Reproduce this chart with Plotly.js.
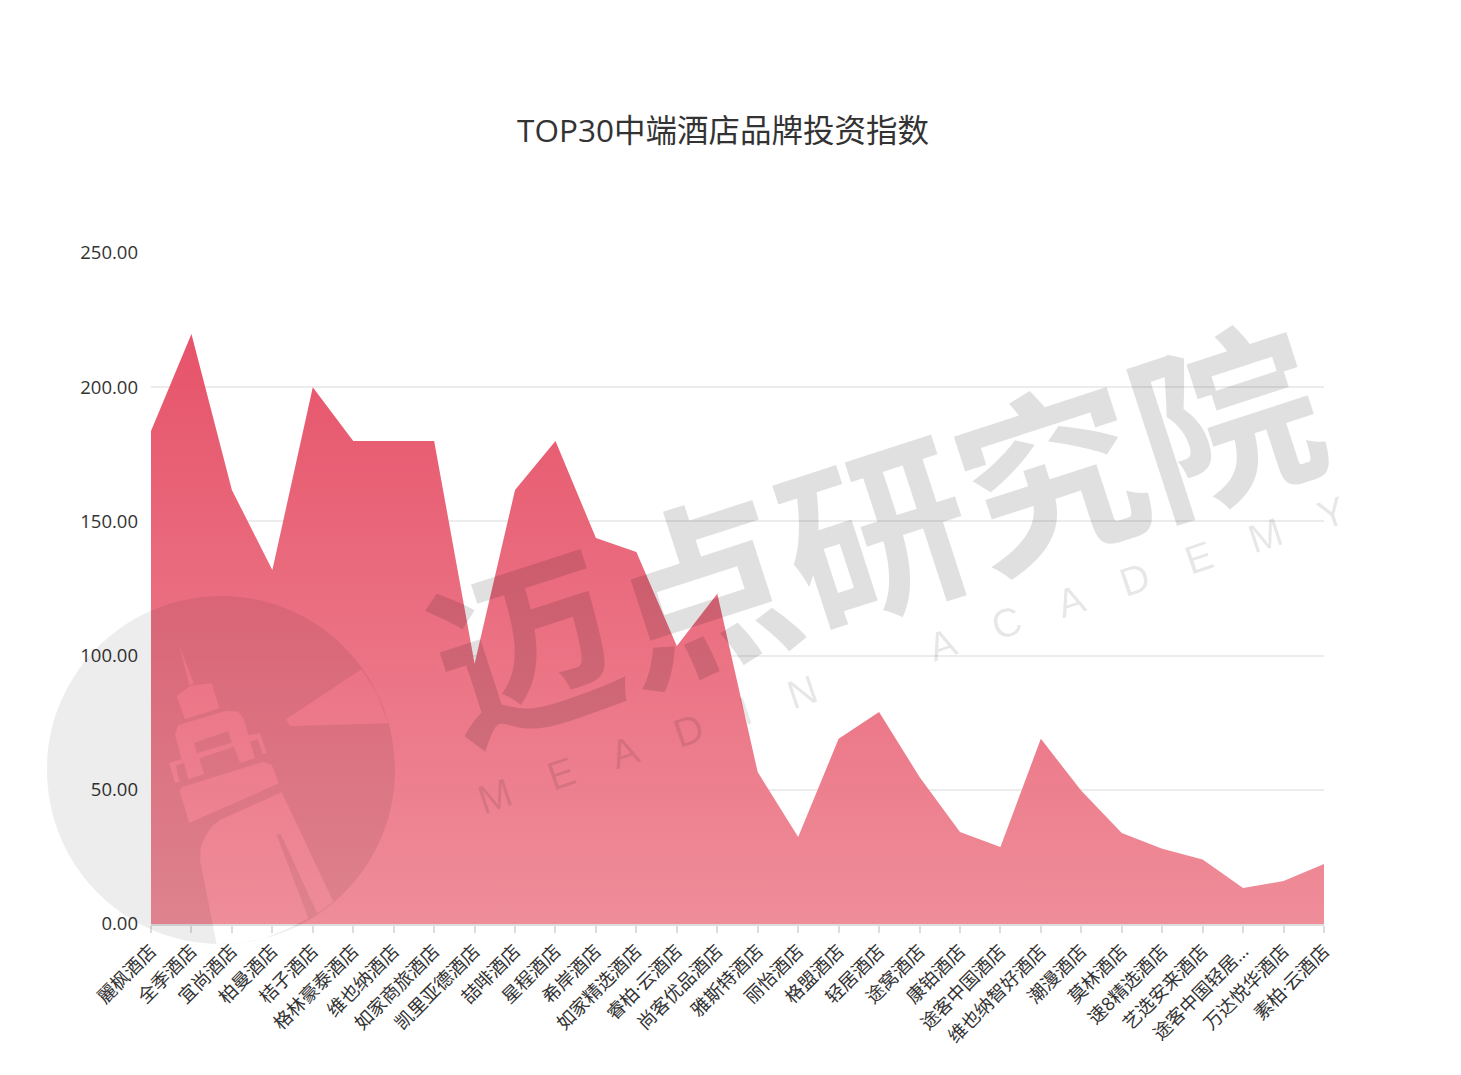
<!DOCTYPE html>
<html>
<head>
<meta charset="utf-8">
<script src="https://cdn.plot.ly/plotly-3.0.1.min.js"></script>
<style>html,body{margin:0;padding:0;background:#fff}</style>
</head>
<body>
<div id="chart" style="width:1461px;height:1075px"></div>
<script>
const categories = ["麗枫酒店","全季酒店","宜尚酒店","柏曼酒店","桔子酒店","格林豪泰酒店","维也纳酒店","如家商旅酒店","凯里亚德酒店","喆啡酒店","星程酒店","希岸酒店","如家精选酒店","睿柏·云酒店","尚客优品酒店","雅斯特酒店","丽怡酒店","格盟酒店","轻居酒店","途窝酒店","康铂酒店","途客中国酒店","维也纳智好酒店","潮漫酒店","莫林酒店","速8精选酒店","艺选安来酒店","途客中国轻居…","万达悦华酒店","素柏·云酒店"];
const values = [183.7,219.8,161.7,131.9,200,180,180,180,97,161.7,180,143.8,138.6,103.6,123,56.6,32.4,69,79,54.8,34.3,28.7,69,49.6,33.9,28,24,13.4,16,22.4];
const chartTitle = "TOP30中端酒店品牌投资指数";
const watermarkCn = "迈点研究院";
const watermarkEn = "M\u2003E\u2003A\u2003D\u2003I\u2003N\u2003\u2003\u2003A\u2003C\u2003A\u2003D\u2003E\u2003M\u2003Y";

const W = 1461, H = 1075, L = 151, R = 1324, T = 253, B = 924;
const px = x => (x - L) / (R - L);
const py = y => (B - y) / (B - T);

// logo drawn from crop coordinates (3x, origin 30,580)
const zx = x => px(30 + x / 3), zy = y => py(580 + y / 3);
const poly = pts => "M" + pts.map(p => zx(p[0]) + "," + zy(p[1])).join(" L") + " Z ";
const cx = 573, cy = 570, r = 522, k = 0.5523 * r;
const circle = [[cx-r,cy],[cx-r,cy-k],[cx-k,cy-r],[cx,cy-r],[cx+k,cy-r],[cx+r,cy-k],[cx+r,cy],[cx+r,cy+k],[cx+k,cy+r],[cx,cy+r],[cx-k,cy+r],[cx-r,cy+k],[cx-r,cy]];
let circlePath = "M" + zx(circle[0][0]) + "," + zy(circle[0][1]);
for (let i = 1; i < circle.length; i += 3) {
  circlePath += " C" + [0,1,2].map(j => zx(circle[i+j][0]) + "," + zy(circle[i+j][1])).join(" ");
}
circlePath += " Z ";
const logoParts = [
  [[447,195],[492,312],[478,315]],
  [[440,348],[480,318],[545,310],[568,385],[465,418]],
  [[435,465],[445,435],[590,392],[625,395],[640,415],[655,465],[690,460],[710,520],[698,522],[683,478],[660,485],[675,535],[630,548],[612,500],[508,535],[522,582],[475,598],[462,548],[438,557],[448,605],[435,608],[417,550],[455,537]],
  [[492,488],[595,453],[605,488],[500,520]],
  [[448,630],[460,620],[700,545],[725,555],[747,610],[478,728]],
  [[755,637],[910,965],[862,1000],[752,762],[740,765],[835,1015],[770,1048],[700,1076],[630,1089],[560,1092],[510,840],[512,805],[525,770],[545,740],[570,720]],
  [[768,418],[995,268],[1040,340],[1075,430],[780,438]]
];
const logoPath = circlePath + logoParts.map(poly).join("");

const trace = {
  x: categories,
  y: values,
  type: "scatter",
  mode: "lines",
  line: {width: 0, color: "rgba(227,64,89,0)"},
  fill: "tozeroy",
  fillgradient: {
    type: "vertical",
    start: 220,
    stop: 0,
    colorscale: [[0, "rgba(229,74,98,0.95)"], [1, "rgba(238,135,148,0.95)"]]
  },
  hoverinfo: "x+y"
};

const baseFont = '"Open Sans","Noto Sans CJK SC",sans-serif';
const cnFont = '"Noto Sans CJK SC","Noto Sans",sans-serif';
const layout = {
  width: W, height: H,
  margin: {l: L, r: W - R, t: T, b: H - B, pad: 0},
  paper_bgcolor: "#fff",
  plot_bgcolor: "#fff",
  showlegend: false,
  font: {family: baseFont, color: "#333", size: 18},
  title: {
    text: chartTitle,
    x: 723 / W, xanchor: "center", xref: "container",
    y: 1 - 131 / H, yanchor: "middle", yref: "container",
    font: {size: 31.5, color: "#333", family: baseFont}
  },
  xaxis: {
    type: "category",
    range: [0, 29],
    tickmode: "array",
    tickvals: categories,
    ticktext: categories,
    tickangle: -45,
    ticks: "outside", ticklen: 7, tickwidth: 2, tickcolor: "#ddd",
    showline: true, linecolor: "#ddd", linewidth: 2,
    showgrid: false, zeroline: false,
    automargin: false,
    tickfont: {size: 18.5, color: "#333", family: baseFont}
  },
  yaxis: {
    range: [0, 250], dtick: 50, tickformat: ".2f",
    showline: false, zeroline: false, ticks: "",
    gridcolor: "#ececec", gridwidth: 2,
    ticklabelstandoff: 12,
    automargin: false,
    tickfont: {size: 18.5, color: "#333", family: baseFont}
  },
  shapes: [{
    type: "path", xref: "paper", yref: "paper", path: logoPath,
    fillrule: "evenodd", fillcolor: "rgba(0,0,0,0.07)", line: {width: 0}, layer: "above"
  }],
  annotations: [
    {text: "<b>" + watermarkCn + "</b>", xref: "paper", yref: "paper", x: px(873), y: py(524),
     xanchor: "center", yanchor: "middle", showarrow: false, textangle: -18,
     font: {size: 184, color: "rgba(0,0,0,0.12)", family: cnFont}},
    {text: watermarkEn, xref: "paper", yref: "paper", x: px(911), y: py(655),
     xanchor: "center", yanchor: "middle", showarrow: false, textangle: -18.7,
     font: {size: 40, color: "rgba(0,0,0,0.10)", family: '"Liberation Sans",sans-serif'}}
  ]
};

Plotly.newPlot("chart", [trace], layout, {displayModeBar: false, responsive: false});
</script>
</body>
</html>
